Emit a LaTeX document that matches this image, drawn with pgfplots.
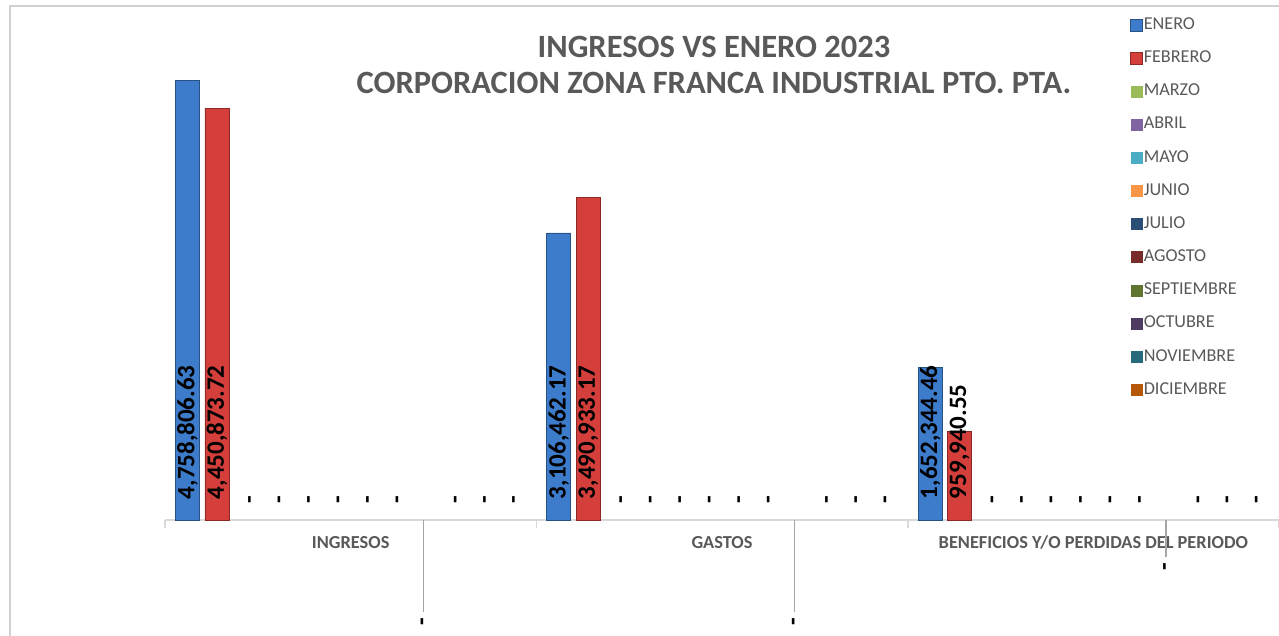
\documentclass[border=0pt]{standalone}
\usepackage{fontspec}
\setmainfont{Carlito}
\usepackage{pgfplots}
\pgfplotsset{compat=1.18}

\definecolor{txtgray}{HTML}{595959}
\definecolor{ene}{HTML}{3D7CCB}
\definecolor{feb}{HTML}{D43F3B}
\definecolor{mar}{HTML}{9BBB59}
\definecolor{abr}{HTML}{8064A2}
\definecolor{may}{HTML}{4BACC6}
\definecolor{jun}{HTML}{F79646}
\definecolor{jul}{HTML}{2C4D75}
\definecolor{ago}{HTML}{772C2A}
\definecolor{sep}{HTML}{5F7530}
\definecolor{oct}{HTML}{4D3B62}
\definecolor{nov}{HTML}{276A7C}
\definecolor{dic}{HTML}{B65708}

\tikzset{
  lblfont/.style={font=\bfseries\fontsize{15}{16}\selectfont, text=black},
  vallbl/.style={xshift=#1, lblfont, rotate=90, anchor=west, inner xsep=12.4pt, inner ysep=0pt},
  zerolbl/.style={xshift=#1, lblfont, rotate=90, anchor=west, inner xsep=10pt, inner ysep=0pt},
}
% one category is 222.8pt wide, so a bar shift s in axis units is s*222.8pt
\pgfplotsset{
  mybar/.style={ybar, bar width=0.0646, bar shift=#1},
  zerobar/.style n args={3}{mybar=#1, draw=none, fill=none,
    legend image post style={fill=#3},
    nodes near coords={-},
    every node near coord/.append style={zerolbl=#2}},
  lblplot/.style={draw=none, fill=none, forget plot,
    point meta=explicit symbolic, nodes near coords,
    every node near coord/.append style={vallbl=#1}},
}

\begin{document}
\begin{tikzpicture}
\begin{axis}[
  scale only axis,
  width=668.4pt, height=277.2pt,
  xmin=-0.5, xmax=2.5, ymin=0, ymax=5000000,
  axis y line=none,
  axis x line=bottom,
  x axis line style={-, draw=black!15, line width=1.5pt},
  xtick={0,1,2},
  xticklabels={INGRESOS, GASTOS, BENEFICIOS Y/O PERDIDAS DEL PERIODO},
  xtick pos=left,
  major tick length=0pt,
  xticklabel style={font=\bfseries\fontsize{11}{12}\selectfont, text=txtgray, anchor=base, yshift=-17pt},
  extra x ticks={-0.5,0.5,1.5,2.5},
  extra x tick labels={},
  extra x tick style={major tick length=4.5pt, tick align=outside,
    tick style={draw=black!15, line width=1pt}},
  clip=false,
  title={INGRESOS VS ENERO 2023\\CORPORACION ZONA FRANCA INDUSTRIAL PTO. PTA.},
  title style={at={(axis description cs:0.4928,0.964)}, anchor=center, align=center,
    font=\bfseries\fontsize{19.5}{21.5}\selectfont, text=txtgray},
  legend style={at={(axis description cs:0.8662,1.088)}, anchor=north west,
    draw=none, fill=none, inner sep=0pt, row sep=10.9pt,
    font=\fontsize{10.9}{12}\selectfont, text=txtgray,
    nodes={inner sep=0pt, text height=7pt, text depth=2pt},
    /tikz/every odd column/.append style={column sep=0.4pt}},
  legend cell align=left,
  legend image code/.code={\fill[#1] (0pt,-3.6pt) rectangle (7.2pt,3.6pt);},
]
% ENERO and FEBRERO
\addplot[mybar=-0.4394, fill=ene, draw=ene!65!black, line width=0.5pt]
  coordinates {(0,4758806.63) (1,3106462.17) (2,1652344.46)};
\addlegendentry{ENERO}
\addplot[mybar=-0.3600, fill=feb, draw=feb!65!black, line width=0.5pt]
  coordinates {(0,4450873.72) (1,3490933.17) (2,959940.55)};
\addlegendentry{FEBRERO}
% months without data
\addplot[zerobar={-0.2806}{-59.0pt}{mar}] coordinates {(0,0) (1,0) (2,0)};
\addlegendentry{MARZO}
\addplot[zerobar={-0.2012}{-41.3pt}{abr}] coordinates {(0,0) (1,0) (2,0)};
\addlegendentry{ABRIL}
\addplot[zerobar={-0.1218}{-23.6pt}{may}] coordinates {(0,0) (1,0) (2,0)};
\addlegendentry{MAYO}
\addplot[zerobar={-0.0424}{-5.9pt}{jun}] coordinates {(0,0) (1,0) (2,0)};
\addlegendentry{JUNIO}
\addplot[zerobar={0.0370}{11.8pt}{jul}] coordinates {(0,0) (1,0) (2,0)};
\addlegendentry{JULIO}
\addplot[zerobar={0.1164}{29.5pt}{ago}] coordinates {(0,0) (1,0) (2,0)};
\addlegendentry{AGOSTO}
\addplot[mybar=0.1958, draw=none, fill=none, legend image post style={fill=sep}]
  coordinates {(0,0) (1,0) (2,0)};
\addlegendentry{SEPTIEMBRE}
\addplot[zerobar={0.2752}{64.5pt}{oct}] coordinates {(0,0) (1,0) (2,0)};
\addlegendentry{OCTUBRE}
\addplot[zerobar={0.3546}{82.0pt}{nov}] coordinates {(0,0) (1,0) (2,0)};
\addlegendentry{NOVIEMBRE}
\addplot[zerobar={0.4340}{99.5pt}{dic}] coordinates {(0,0) (1,0) (2,0)};
\addlegendentry{DICIEMBRE}

% value labels at the base of the bars
\addplot[mybar=-0.4394, lblplot=-97.90pt]
  coordinates {(0,0) [4,758,806.63] (1,0) [3,106,462.17] (2,0) [1,652,344.46]};
\addplot[mybar=-0.3600, lblplot=-80.21pt]
  coordinates {(0,0) [4,450,873.72] (1,0) [3,490,933.17] (2,0) [959,940.55]};

% SEPTIEMBRE labels pulled below the axis with leader lines
\addplot[mybar=0.1958, draw=none, fill=none, forget plot,
  error bars/y dir=minus, error bars/y explicit,
  error bars/error mark=none,
  error bars/error bar style={xshift=43.62pt, draw=black!35, line width=0.8pt}]
  coordinates {(0,0) -= (0,995000) (1,0) -= (0,995000) (2,0) -= (0,400000)};
\addplot[mybar=0.1958, draw=none, fill=none, forget plot,
  nodes near coords={-},
  every node near coord/.append style={xshift=44.5pt, lblfont, rotate=90, anchor=center, inner sep=0pt}]
  coordinates {(0,-1103000) (1,-1103000) (2,-508000)};
\end{axis}
\draw[black!18, line width=1pt] (-93pt,-70pt) -- (-93pt,308.4pt) -- (670pt,308.4pt);
\pgfresetboundingbox
\path[use as bounding box] (-99pt,-69pt) rectangle (668.4pt,312pt);
\end{tikzpicture}
\end{document}
